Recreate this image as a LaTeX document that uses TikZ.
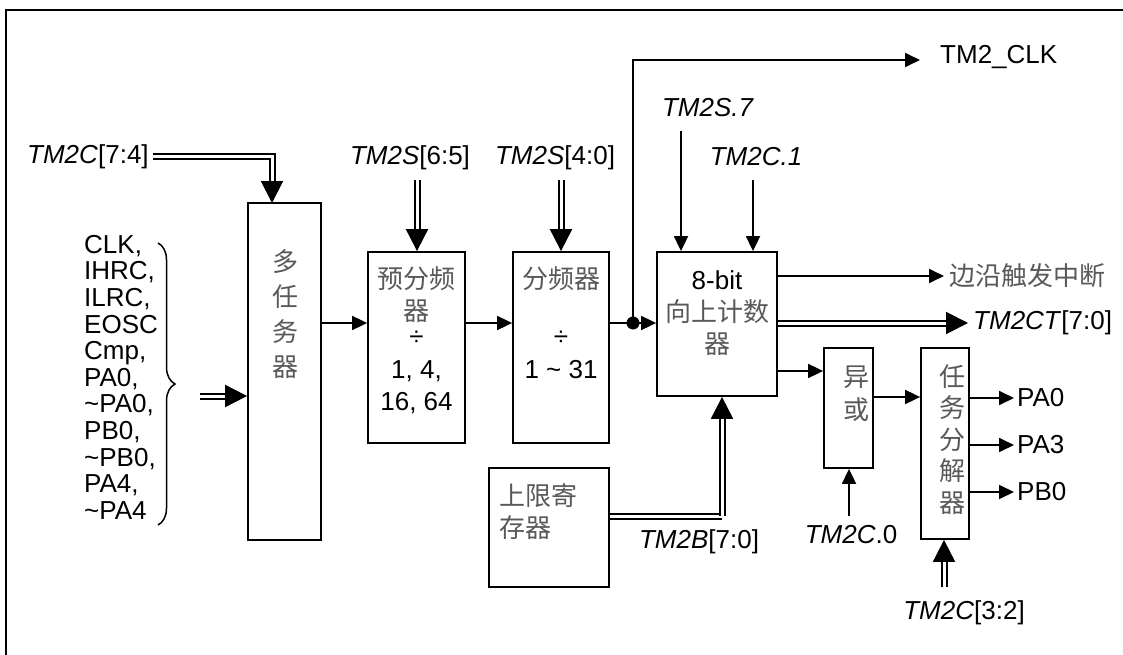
\documentclass[tikz,border=0pt]{standalone}
\usepackage{fontspec}
\setmainfont{Liberation Sans}
\newfontfamily\cjk{Noto Sans CJK SC}
\usetikzlibrary{arrows.meta,decorations.pathreplacing}
\begin{document}
\begin{tikzpicture}[x=1pt,y=-1pt,
  box/.style={draw,line width=1.8pt,inner sep=0,minimum width=#1},
  sig/.style={line width=1.8pt,-{Triangle[length=15pt,width=14pt]}},
  bus/.style={double,double distance=3pt,line width=2pt,-{Triangle[length=22pt,width=22pt]}},
  busn/.style={double,double distance=3pt,line width=2pt},
  txt/.style={font=\fontsize{26}{27}\selectfont,inner sep=0},
  ctx/.style={font=\fontsize{26}{32.5}\selectfont\cjk,text=black!65,inner sep=0,align=center},
  mix/.style={font=\fontsize{26}{32.5}\selectfont,inner sep=0,align=center}]
\useasboundingbox (0,0) rectangle (1123,655);
\fill[white] (0,0) rectangle (1123,655);
% frame
\draw[line width=2pt] (1123,10) -- (6,10) -- (6,655);
% boxes
\node[box=73pt,minimum height=337pt] (mux) at (284.5,371.5) {};
\node[box=97pt,minimum height=191pt] (pre) at (416.5,347.5) {};
\node[box=96pt,minimum height=191pt] (div) at (561,347.5) {};
\node[box=120pt,minimum height=144pt] (cnt) at (717,324) {};
\node[box=120pt,minimum height=119pt] (lim) at (549,527.5) {};
\node[box=49pt,minimum height=120pt] (xor) at (848.5,408) {};
\node[box=48pt,minimum height=191pt] (dec) at (945,443.5) {};
% box texts
\node[ctx,font=\fontsize{26}{35}\selectfont\cjk,anchor=north] (muxt) at (285,249) {多\\任\\务\\器};
\node[ctx,anchor=north] (pret1) at (416.5,266) {预分频\\器};
\node[mix,anchor=north] (pret2) at (416.5,331) {÷\\1, 4,\\16, 64};
\node[ctx,anchor=north] (divt1) at (561,266) {分频器};
\node[mix,anchor=north] (divt2) at (561,331) {÷\\1 \char`\~{} 31};
\node[txt] (cntt1) at (717,280) {8-bit};
\node[ctx,anchor=north] (cntt2) at (717,299) {向上计数\\器};
\node[ctx,align=left,anchor=north west] (limt) at (499,483) {上限寄\\存器};
\node[ctx,anchor=north] (xort) at (856,366) {异\\或};
\node[ctx,font=\fontsize{26}{31.5}\selectfont\cjk,anchor=north] (dect) at (952,364) {任\\务\\分\\解\\器};
% input list and brace
\node[txt,font=\fontsize{26}{26.6}\selectfont,align=left,anchor=north west] (inl) at (84,235)
 {CLK,\\IHRC,\\ILRC,\\EOSC\\Cmp,\\PA0,\\\char`\~PA0,\\PB0,\\\char`\~PB0,\\PA4,\\\char`\~PA4};
\coordinate (brT) at (158,243);
\coordinate (brB) at (158,525);
\draw[line width=1.5pt,decorate,decoration={brace,amplitude=17pt,aspect=0.5}] (brT) -- (brB);
\coordinate (inS) at (200,396);
\draw[bus] (inS) -- (inS -| mux.west);
% TM2C[7:4]
\node[txt,anchor=west] (l74) at (27,157) {\textit{TM2C}[7:4]};
\coordinate (m74) at (272,203);
\draw[bus] ([xshift=4pt]l74.east) -| (m74);
% mux -> pre
\coordinate (y323) at (0,323);
\draw[sig] (mux.east |- y323) -- (pre.west |- y323);
\draw[sig] (pre.east |- y323) -- (div.west |- y323);
% TM2S labels
\node[txt] (l65) at (410,158) {\textit{TM2S}[6:5]};
\coordinate (s65) at (417,180);
\draw[bus] (s65) -- (s65 |- pre.north);
\node[txt] (l40) at (555,158) {\textit{TM2S}[4:0]};
\coordinate (s40) at (561,180);
\draw[bus] (s40) -- (s40 |- div.north);
% div -> cnt with dot
\coordinate (dot) at (633,323);
\draw[line width=1.8pt] (div.east |- y323) -- (dot);
\draw[sig] (dot) -- (cnt.west |- y323);
\fill (dot) circle (6.5pt);
\coordinate (clkc) at (633,60);
\node[txt,anchor=west] (clk) at (940,57) {TM2\_CLK};
\draw[sig] (dot) -- (clkc) -- (920,60);
% TM2S.7 and TM2C.1
\node[txt] (s7) at (708,108) {\textit{TM2S.7}};
\coordinate (s7s) at (681,131);
\draw[sig] (s7s) -- (s7s |- cnt.north);
\node[txt] (c1) at (756,157) {\textit{TM2C.1}};
\coordinate (c1s) at (753,180);
\draw[sig] (c1s) -- (c1s |- cnt.north);
% counter outputs
\node[ctx,anchor=west] (irq) at (949,276) {边沿触发中断};
\coordinate (y276) at (0,276);
\draw[sig,shorten >=5pt] (cnt.east |- y276) -- (irq.west |- y276);
\node[txt,anchor=west] (ct) at (973,323) {\textit{TM2CT}[7:0]};
\draw[bus,shorten >=5pt] (cnt.east |- y323) -- (ct.west |- y323);
\coordinate (y371) at (0,371);
\draw[sig] (cnt.east |- y371) -- (xor.west |- y371);
% limit register
\coordinate (lb) at (722,516);
\draw[busn] (lim.east |- lb) -- (lb);
\draw[bus] (lb) -- (lb |- cnt.south);
\node[txt] (tb) at (699,542) {\textit{TM2B}[7:0]};
% xor
\coordinate (y397) at (0,397);
\draw[sig] (xor.east |- y397) -- (dec.west |- y397);
\node[txt] (c0) at (851,535) {\textit{TM2C}.0};
\coordinate (c0s) at (849,516);
\draw[sig] (c0s) -- (c0s |- xor.south);
% decoder outputs
\node[txt,anchor=west] (pa0) at (1017,398) {PA0};
\node[txt,anchor=west] (pa3) at (1017,445) {PA3};
\node[txt,anchor=west] (pb0) at (1017,492) {PB0};
\draw[sig,shorten >=3pt] (dec.east |- pa0.west) -- (pa0.west);
\draw[sig,shorten >=3pt] (dec.east |- pa3.west) -- (pa3.west);
\draw[sig,shorten >=3pt] (dec.east |- pb0.west) -- (pb0.west);
\node[txt] (c32) at (964,613) {\textit{TM2C}[3:2]};
\coordinate (c32s) at (944,587);
\draw[bus] (c32s) -- (c32s |- dec.south);
\end{tikzpicture}
\end{document}
